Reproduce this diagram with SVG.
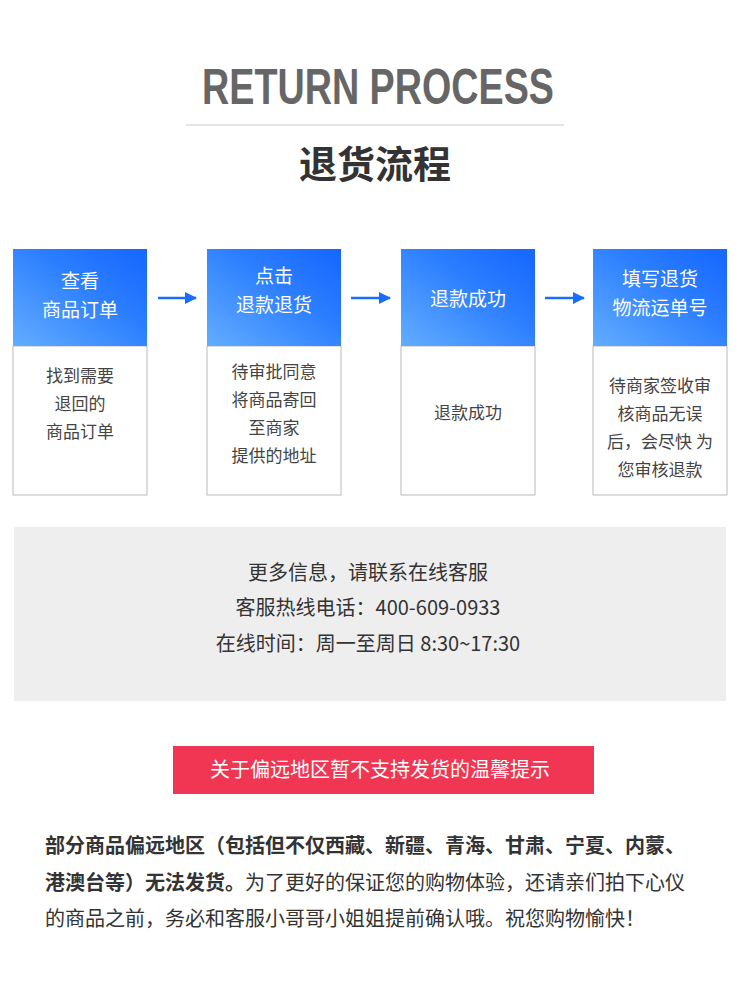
<svg xmlns="http://www.w3.org/2000/svg" width="750" height="1000" viewBox="0 0 750 1000">
<style>
.cjk{font-family:"Noto Sans CJK SC","Noto Sans",sans-serif}
.hd{fill:#fff;font-size:19px;text-anchor:middle}
.bd{fill:#444;font-size:17px;text-anchor:middle}
.body{fill:#fff;stroke:#bbb;stroke-width:1}
.info{fill:#333;font-size:20px;text-anchor:middle}
.tip{fill:#333;font-size:20px;font-weight:bold}
</style>
<defs>
<linearGradient id="g" x1="0" y1="1" x2="1" y2="0">
<stop offset="0" stop-color="#62adff"/><stop offset="0.6" stop-color="#2b7dff"/><stop offset="1" stop-color="#1466ff"/>
</linearGradient>
<marker id="ah" markerWidth="12" markerHeight="12" refX="11" refY="6" orient="auto" markerUnits="userSpaceOnUse">
<path d="M0,0 L12,6 L0,12 Z" fill="#1a6cff"/>
</marker>
</defs>
<rect width="750" height="1000" fill="#fff"/>
<text x="378" y="104" font-family="Liberation Sans, sans-serif" font-weight="bold" font-size="50" fill="#666" text-anchor="middle" textLength="352" lengthAdjust="spacingAndGlyphs">RETURN PROCESS</text>
<line x1="186" y1="125" x2="564" y2="125" stroke="#ccc"/>
<text x="375" y="178" class="cjk" font-weight="bold" font-size="38" fill="#333" text-anchor="middle">退货流程</text>
<g id="step1"><rect x="13" y="346" width="134" height="149" class="body"/><rect x="13" y="249" width="134" height="97" fill="url(#g)"/>
<text class="cjk hd" x="80" y="288">查看</text><text class="cjk hd" x="80" y="317">商品订单</text>
<text class="cjk bd" x="80" y="382">找到需要</text><text class="cjk bd" x="80" y="410">退回的</text><text class="cjk bd" x="80" y="438">商品订单</text></g>
<g id="step2"><rect x="207" y="346" width="134" height="149" class="body"/><rect x="207" y="249" width="134" height="97" fill="url(#g)"/>
<text class="cjk hd" x="274" y="283">点击</text><text class="cjk hd" x="274" y="312">退款退货</text>
<text class="cjk bd" x="274" y="378">待审批同意</text><text class="cjk bd" x="274" y="406">将商品寄回</text><text class="cjk bd" x="274" y="434">至商家</text><text class="cjk bd" x="274" y="462">提供的地址</text></g>
<g id="step3"><rect x="401" y="346" width="134" height="149" class="body"/><rect x="401" y="249" width="134" height="97" fill="url(#g)"/>
<text class="cjk hd" x="468" y="306">退款成功</text>
<text class="cjk bd" x="468" y="419">退款成功</text></g>
<g id="step4"><rect x="593" y="346" width="134" height="149" class="body"/><rect x="593" y="249" width="134" height="97" fill="url(#g)"/>
<text class="cjk hd" x="660" y="286">填写退货</text><text class="cjk hd" x="660" y="315">物流运单号</text>
<text class="cjk bd" x="660" y="392">待商家签收审</text><text class="cjk bd" x="660" y="420">核商品无误</text><text class="cjk bd" x="660" y="448">后，会尽快 为</text><text class="cjk bd" x="660" y="476">您审核退款</text></g>
<g id="connectors" stroke="#1a6cff" stroke-width="2.5" marker-end="url(#ah)">
<line x1="158" y1="298" x2="196" y2="298"/>
<line x1="351" y1="298" x2="390" y2="298"/>
<line x1="545" y1="298" x2="584" y2="298"/>
</g>
<g id="info"><rect x="14" y="527" width="712" height="174" fill="#eee"/>
<text class="cjk info" x="368" y="580">更多信息，请联系在线客服</text>
<text class="cjk info" x="368" y="615">客服热线电话：400-609-0933</text>
<text class="cjk info" x="368" y="651">在线时间：周一至周日 8:30~17:30</text></g>
<g id="notice"><rect x="173" y="746" width="421" height="48" fill="#f03652"/>
<text class="cjk" x="380" y="777" font-size="20" fill="#fff" text-anchor="middle">关于偏远地区暂不支持发货的温馨提示</text></g>
<text class="cjk tip" x="45" y="853">部分商品偏远地区（包括但不仅西藏、新疆、青海、甘肃、宁夏、内蒙、</text>
<text class="cjk" x="45" y="890" font-size="20" fill="#333"><tspan font-weight="bold">港澳台等）无法发货。</tspan>为了更好的保证您的购物体验，还请亲们拍下心仪</text>
<text class="cjk" x="45" y="926" font-size="20" fill="#333">的商品之前，务必和客服小哥哥小姐姐提前确认哦。祝您购物愉快！</text>
</svg>
